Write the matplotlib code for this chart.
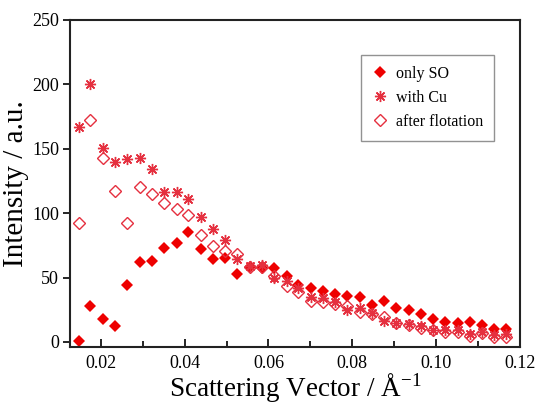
import numpy as np
import matplotlib
matplotlib.use("Agg")
import matplotlib.pyplot as plt

# scattering vector (1/A), 36 points
q = [0.0147, 0.0175, 0.0205, 0.0234, 0.0263, 0.0293, 0.0321, 0.0351, 0.0381,
     0.0409, 0.0438, 0.0468, 0.0497, 0.0526, 0.0555, 0.0584, 0.0613, 0.0643,
     0.0671, 0.0701, 0.0730, 0.0759, 0.0788, 0.0818, 0.0847, 0.0876, 0.0905,
     0.0934, 0.0963, 0.0992, 0.1022, 0.1051, 0.1080, 0.1109, 0.1138, 0.1167]

only_so = [1, 28, 18, 12, 44, 62, 63, 73, 77, 85, 72, 64, 65, 52.5, 58, 57,
           57, 51, 44, 41.5, 39.5, 37, 36, 34.5, 29, 32, 26, 24.5, 21.5, 17.5,
           15.5, 14.5, 15.5, 13.5, 10, 10]

with_cu = [167, 200, 150.5, 140, 142, 142.5, 134, 116.5, 116.5, 111, 97, 88,
           79.5, 64.5, 59, 60, 49.5, 47, 42, 34.5, 34, 31, 25, 26.5, 22.5, 16,
           15, 14, 12, 9.5, 9, 9, 6, 7.5, 5, 6]

after_flot = [92, 172, 143, 117, 92.5, 120, 114.5, 107.5, 103.5, 98.5, 83,
              74.5, 70.5, 68, 58.5, 58.5, 51.5, 43.5, 39, 32, 31, 29.5, 28,
              23, 21.5, 19, 15, 13.5, 10.5, 9, 7.5, 8, 4.5, 7, 4, 4]

plt.rcParams['font.family'] = ['Liberation Serif', 'DejaVu Serif']
plt.rcParams['mathtext.fontset'] = 'custom'
plt.rcParams['mathtext.rm'] = 'Liberation Serif'

fig = plt.figure(figsize=(5.4, 4.05), dpi=100)
ax = fig.add_axes([0.130, 0.143, 0.833, 0.808])

red = '#ee0000'
pink = '#e5303f'

ax.plot(q, only_so, 'D', color=red, markersize=6, markeredgewidth=0,
        linestyle='none', label='only SO')
ax.plot(q, with_cu, marker=(8, 2, 0), color=pink, markersize=8,
        markeredgewidth=1.0, linestyle='none', label='with Cu')
ax.plot(q, after_flot, 'D', markerfacecolor='none', markeredgecolor=pink,
        markersize=6.5, markeredgewidth=1.0, linestyle='none',
        label='after flotation')

ax.set_xlim(0.0127, 0.12)
ax.set_ylim(-4, 250)
ax.set_xticks([0.02, 0.04, 0.06, 0.08, 0.10, 0.12])
ax.set_xticklabels(['0.02', '0.04', '0.06', '0.08', '0.10', '0.12'])
ax.set_xticks([0.03, 0.05, 0.07, 0.09, 0.11], minor=True)
ax.set_yticks([0, 50, 100, 150, 200, 250])

ax.tick_params(axis='x', which='major', direction='in', length=6, width=1.2,
               labelsize=13, pad=6)
ax.tick_params(axis='x', which='minor', direction='in', length=4, width=1.2)
ax.tick_params(axis='y', which='major', direction='out', length=5, width=1.2,
               labelsize=13, pad=3)

for s in ax.spines.values():
    s.set_linewidth(1.5)
    s.set_color('#222222')

ax.set_xlabel('Scattering Vector / Å$^{-1}$', fontsize=19.5, labelpad=-1)
ax.set_ylabel('Intensity / a.u.', fontsize=21, labelpad=2)

leg = ax.legend(loc='upper left', bbox_to_anchor=(0.646, 0.893), fontsize=11.5,
                frameon=True, fancybox=False, edgecolor='#777777',
                handletextpad=0.5, handlelength=1.0, borderpad=0.7,
                labelspacing=0.5, borderaxespad=0)
leg.get_frame().set_linewidth(1.0)

fig.savefig('out.png', dpi=100)
